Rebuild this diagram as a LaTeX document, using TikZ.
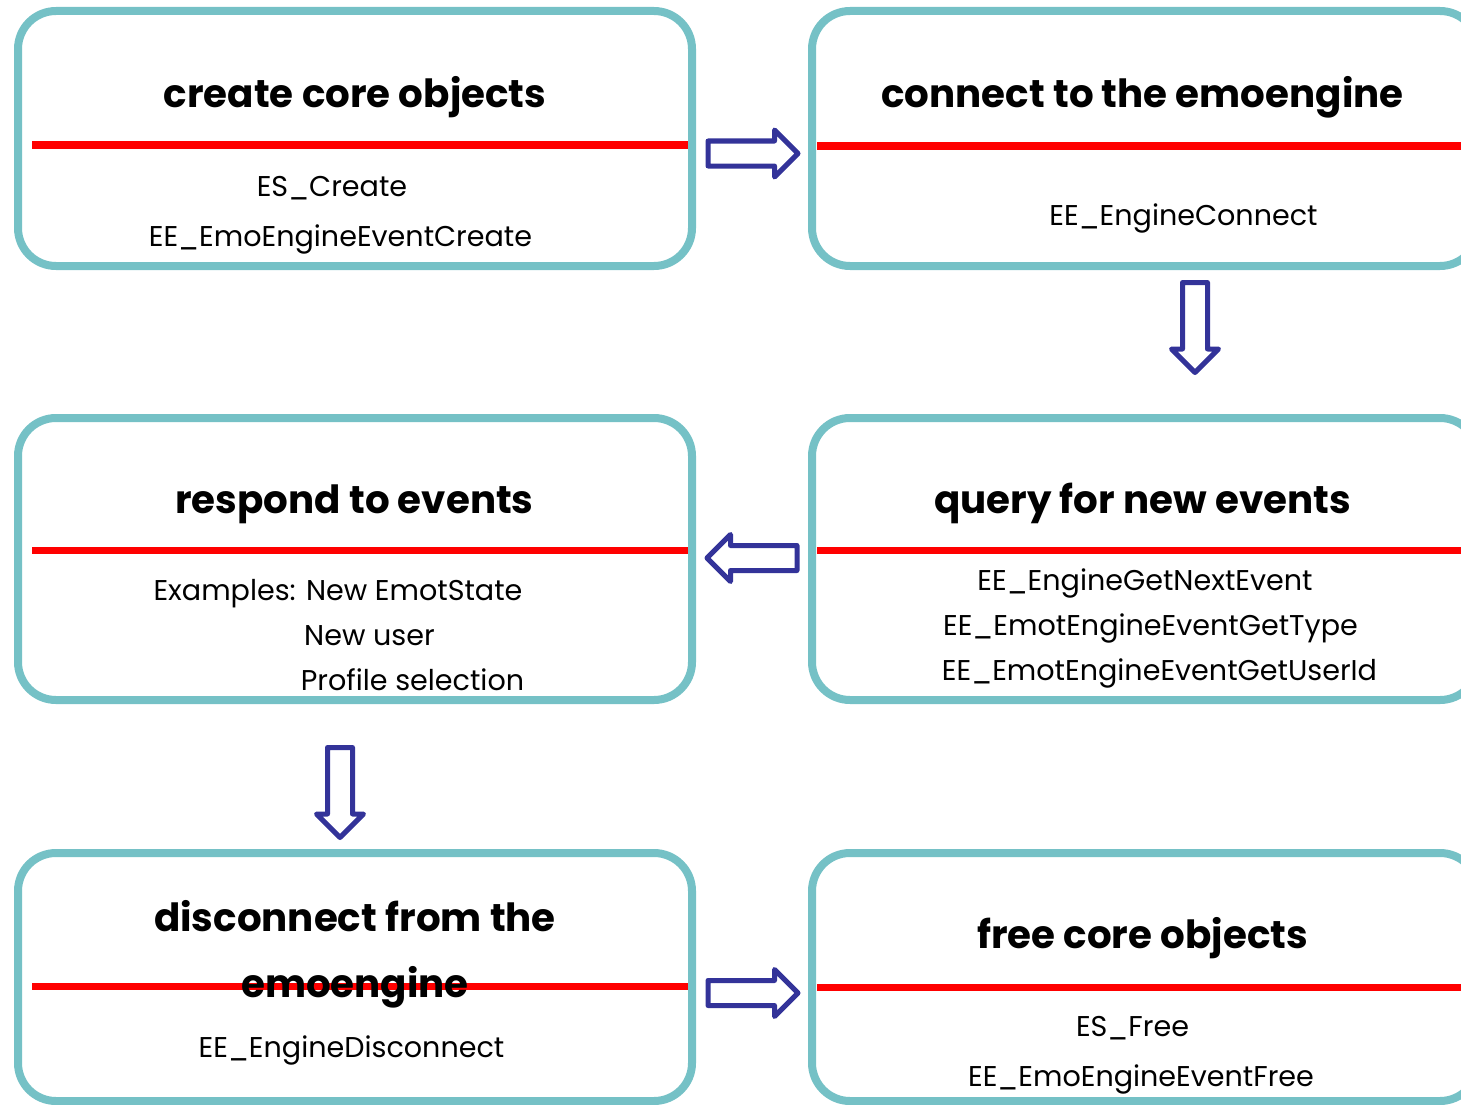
\documentclass[tikz,border=0pt]{standalone}
\usepackage{fontspec}
\setmainfont{Poppins}
\usetikzlibrary{shapes.arrows,calc}

\definecolor{frameteal}{RGB}{117,193,198}
\definecolor{flowblue}{RGB}{51,51,153}
\definecolor{rulered}{RGB}{255,0,0}

\tikzset{
  stage/.style={draw=frameteal, fill=white, line width=8pt, rounded corners=38pt,
    rectangle, inner sep=0pt, outer sep=0pt},
  divider/.style={draw=rulered, line width=7pt},
  heading/.style={anchor=base, inner sep=0pt, font=\fontsize{38.8}{46}\selectfont\bfseries},
  apicall/.style={anchor=base, inner sep=0pt, font=\fontsize{28.6}{34}\selectfont},
  flowarrow/.style={single arrow, draw=flowblue, fill=white, line width=5pt,
    line join=round, minimum height=90pt, inner xsep=0pt, inner ysep=10pt,
    outer sep=0pt, anchor=tail,
    single arrow head extend=11pt, single arrow tip angle=90}
}

\begin{document}
\begin{tikzpicture}[x=1pt,y=-1pt]
\useasboundingbox (0,0) rectangle (1461,1105);
\clip (0,0) rectangle (1461,1105);

% stage frames
\node[stage, minimum width=674pt, minimum height=255pt] (b1) at (355,138.5) {};
\node[stage, minimum width=666pt, minimum height=255pt] (b2) at (1145,138.5) {};
\node[stage, minimum width=674pt, minimum height=282pt] (b3) at (355,559) {};
\node[stage, minimum width=666pt, minimum height=282pt] (b4) at (1145,559) {};
\node[stage, minimum width=674pt, minimum height=248pt] (b5) at (355,977) {};
\node[stage, minimum width=666pt, minimum height=248pt] (b6) at (1145,977) {};

% red rules under the headings (box / drop below top edge / left inset)
\foreach \b/\d/\l in {b1/134/14,b2/135/5,b3/132/14,b4/132/5,b5/133/14,b6/134/5}{
  \draw[divider] ([xshift=\l pt,yshift=-\d pt]\b.north west) -- ([xshift=-4pt,yshift=-\d pt]\b.north east);
}

% headings
\node[heading] (t1) at (355,108) {create core objects};
\node[heading] (t2) at (1142.5,108) {connect to the emoengine};
\node[heading] (t3) at (354.5,513) {respond to events};
\node[heading] (t4) at (1142.5,513) {query for new events};
\node[heading] (t5a) at (355,931) {disconnect from the};
\node[heading] (t5b) at (355,997) {emoengine};
\node[heading] (t6) at (1142.5,948) {free core objects};

% function names
\node[apicall] (c1a) at (332,196) {ES\_Create};
\node[apicall] (c1b) at (340.5,246) {EE\_EmoEngineEventCreate};
\node[apicall] (c2a) at (1183.5,225) {EE\_EngineConnect};
\node[apicall] (c3a) at (338,600) {Examples: New EmotState};
\node[apicall] (c3b) at (369.5,645) {New user};
\node[apicall] (c3c) at (412.5,690) {Profile selection};
\node[apicall] (c4a) at (1145,590) {EE\_EngineGetNextEvent};
\node[apicall] (c4b) at (1150.5,635) {EE\_EmotEngineEventGetType};
\node[apicall] (c4c) at (1159.5,680) {EE\_EmotEngineEventGetUserId};
\node[apicall] (c5a) at (351.5,1057) {EE\_EngineDisconnect};
\node[apicall] (c6a) at (1132.5,1036) {ES\_Free};
\node[apicall] (c6b) at (1141,1086) {EE\_EmoEngineEventFree};

% flow arrows between the stages
\node[flowarrow] (a12) at ($(b1.east)+(16,15)$) {};
\node[flowarrow, rotate=-90] (a24) at ($(b2.south)+(50,16.5)$) {};
\node[flowarrow, rotate=180] (a43) at ($(b4.west)+(-15,-1)$) {};
\node[flowarrow, rotate=-90] (a35) at ($(b3.south)+(-15,47.5)$) {};
\node[flowarrow] (a56) at ($(b5.east)+(16,16)$) {};
\end{tikzpicture}
\end{document}
